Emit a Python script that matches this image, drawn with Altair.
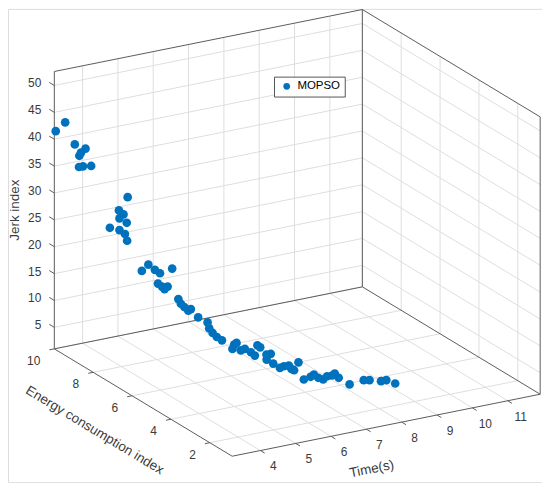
import math
import altair as alt
import pandas as pd

# ---------------- data ----------------
time_s = [3.24, 3.43, 3.62, 3.83, 3.74, 3.71, 3.70, 3.78, 3.94,
          4.66, 4.49, 4.58, 4.50, 4.64, 4.31, 4.50, 4.61, 4.65,
          4.94, 5.07, 5.20, 5.30, 5.54, 5.26, 5.34, 5.39, 5.45, 5.66,
          5.71, 5.78, 5.86, 5.91, 6.05, 6.24, 6.27, 6.34, 6.42, 6.52,
          6.73, 6.75, 6.79, 6.85, 6.91, 7.00, 7.05, 7.09, 7.13, 7.22,
          7.28, 7.18, 7.18, 7.17, 7.31, 7.44, 7.38, 7.39, 7.68, 7.27,
          7.51, 7.66, 7.64, 7.68, 7.88, 8.01, 8.14, 8.07, 8.07, 8.52,
          8.64, 8.85, 9.00, 9.07]
energy = [10.00, 9.86, 9.71, 9.54, 9.61, 9.64, 9.64, 9.58, 9.45,
          8.88, 9.02, 8.95, 9.01, 8.89, 9.16, 9.01, 8.93, 8.89,
          8.66, 8.56, 8.46, 8.38, 8.19, 8.41, 8.35, 8.31, 8.26, 8.09,
          8.05, 8.00, 7.94, 7.90, 7.78, 7.64, 7.61, 7.56, 7.49, 7.41,
          7.25, 7.20, 7.15, 7.04, 6.94, 6.79, 6.68, 6.62, 6.55, 6.39,
          6.28, 6.31, 5.97, 5.61, 5.66, 5.64, 5.40, 5.28, 5.58, 4.56,
          4.65, 4.75, 4.49, 4.31, 4.47, 4.45, 4.55, 4.22, 3.66, 3.75,
          3.67, 3.46, 3.46, 3.13]
jerk = [41.45, 43.13, 39.12, 38.42, 37.64, 37.03, 34.96, 35.11, 35.25,
        29.74, 27.19, 26.48, 25.71, 24.97, 23.89, 23.54, 22.83, 21.62,
        16.13, 17.34, 16.41, 15.83, 16.79, 13.89, 13.36, 12.91, 13.41, 11.17,
        10.32, 9.73, 9.07, 9.40, 7.92, 7.05, 5.96, 5.13, 4.43, 3.85,
        2.32, 3.20, 3.58, 2.36, 2.76, 2.35, 1.90, 3.89, 3.62, 2.50,
        2.79, 1.79, 1.79, 1.80, 1.80, 1.80, 1.80, 1.79, 2.22, 1.79,
        1.78, 1.79, 1.77, 1.80, 1.79, 1.79, 1.77, 1.79, 1.78, 1.78,
        1.80, 1.79, 1.78, 1.79]
series = "MOPSO"

# axis limits and ticks
T_LIM = [3.2, 11.92]
E_LIM = [0.85, 10.0]
Z_LIM = [1.0, 52.6]
T_TICKS = [4, 5, 6, 7, 8, 9, 10, 11]
E_TICKS = [2, 4, 6, 8, 10]
Z_TICKS = [5, 10, 15, 20, 25, 30, 35, 40, 45, 50]
T_TITLE = "Time(s)"
E_TITLE = "Energy consumption index"
Z_TITLE = "Jerk index"

# ---------------- view (orthographic 3-D projection) ----------------
AZ, EL = -30.0, 20.4           # azimuth / elevation in degrees
BOX = (357.0, 357.0, 297.0)    # plot-box edge lengths (px)
W, H = 536, 475                # view size
OX, OY = 225, 449              # where the (t0,E0,z0) corner sits in the view

a, el = math.radians(AZ), math.radians(EL)
CXT = BOX[0] * math.cos(a)
CXE = BOX[1] * math.sin(a)
CYT = -BOX[0] * math.sin(a) * math.sin(el)
CYE = BOX[1] * math.cos(a) * math.sin(el)
CYZ = BOX[2] * math.cos(el)

T0, T1 = T_LIM
E0, E1 = E_LIM
Z0, Z1 = Z_LIM


def proj(sfx=""):
    u = f"((datum.t{sfx}-({T0}))/({T1 - T0}))"
    v = f"((datum.e{sfx}-({E0}))/({E1 - E0}))"
    w = f"((datum.z{sfx}-({Z0}))/({Z1 - Z0}))"
    X = f"({CXT})*{u}+({CXE})*{v}"
    Y = f"({CYT})*{u}+({CYE})*{v}+({CYZ})*{w}"
    return X, Y


X_SCALE = alt.Scale(domain=[-OX, W - OX], nice=False, zero=False)
Y_SCALE = alt.Scale(domain=[-(H - OY), OY], nice=False, zero=False)
FONT = "Liberation Sans"

PX, PY = proj()
PX2, PY2 = proj("2")


def seg_layer(rows, color, width):
    df = pd.DataFrame(rows, columns=["t", "e", "z", "t2", "e2", "z2"])
    return (alt.Chart(df)
            .transform_calculate(px=PX, py=PY, px2=PX2, py2=PY2)
            .mark_rule(color=color, strokeWidth=width)
            .encode(x=alt.X("px:Q", scale=X_SCALE, axis=None),
                    y=alt.Y("py:Q", scale=Y_SCALE, axis=None),
                    x2="px2:Q", y2="py2:Q"))


def text_layer(rows, **mark):
    df = pd.DataFrame(rows, columns=["t", "e", "z", "label"])
    return (alt.Chart(df)
            .transform_calculate(px=PX, py=PY)
            .mark_text(font=FONT, **mark)
            .encode(x=alt.X("px:Q", scale=X_SCALE, axis=None),
                    y=alt.Y("py:Q", scale=Y_SCALE, axis=None),
                    text="label:N"))


# grid lines on the three back planes
grid = []
for t in T_TICKS:
    grid.append((t, E0, Z0, t, E1, Z0))      # floor
    grid.append((t, E1, Z0, t, E1, Z1))      # left wall
for e in E_TICKS:
    grid.append((T0, e, Z0, T1, e, Z0))      # floor
    grid.append((T1, e, Z0, T1, e, Z1))      # right wall
for z in Z_TICKS:
    grid.append((T0, E1, z, T1, E1, z))      # left wall
    grid.append((T1, E0, z, T1, E1, z))      # right wall

box = [
    (T0, E1, Z0, T0, E1, Z1),
    (T0, E1, Z1, T1, E1, Z1),
    (T1, E1, Z0, T1, E1, Z1),
    (T1, E1, Z1, T1, E0, Z1),
    (T1, E0, Z0, T1, E0, Z1),
    (T0, E1, Z0, T1, E1, Z0),
    (T1, E1, Z0, T1, E0, Z0),
    (T0, E0, Z0, T0, E1, Z0),
    (T0, E0, Z0, T1, E0, Z0),
]

ticks = ([(t, E0, Z0, t, E0 - 0.22, Z0) for t in T_TICKS]
         + [(T0, e, Z0, T0 - 0.14, e, Z0) for e in E_TICKS]
         + [(T0, E1, z, T0, E1 + 0.26, z) for z in Z_TICKS])

TICK_COLOR = "#3a3a3a"
t_labels = text_layer([(t, E0, Z0, str(t)) for t in T_TICKS],
                      align="center", baseline="middle", dx=13, dy=16,
                      fontSize=12, color=TICK_COLOR)
e_labels = text_layer([(T0, e, Z0, str(e)) for e in E_TICKS],
                      align="right", baseline="middle", dx=-14, dy=12,
                      fontSize=12, color=TICK_COLOR)
z_labels = text_layer([(T0, E1, z, str(z)) for z in Z_TICKS],
                      align="right", baseline="middle", dx=-13, dy=-2,
                      fontSize=12, color=TICK_COLOR)

t_angle = (-math.degrees(math.atan2(CYT, CXT))) % 360
e_angle = (-math.degrees(math.atan2(CYE, CXE)) + 180) % 360
t_title = text_layer([(5.71, -1.77, Z0, T_TITLE)], align="center",
                     baseline="middle", angle=t_angle, fontSize=13.5,
                     color=TICK_COLOR)
e_title = text_layer([(1.19, 4.27, Z0, E_TITLE)], align="center",
                     baseline="middle", angle=e_angle, fontSize=13.5,
                     color=TICK_COLOR)
z_title = text_layer([(T0, 12.0, 22.44, Z_TITLE)], align="center",
                     baseline="middle", angle=270, fontSize=13.5,
                     color=TICK_COLOR)

pts_df = pd.DataFrame({"t": time_s, "e": energy, "z": jerk,
                       "series": [series] * len(time_s)})
points = (alt.Chart(pts_df)
          .transform_calculate(px=PX, py=PY)
          .mark_circle(size=76, opacity=1)
          .encode(x=alt.X("px:Q", scale=X_SCALE, axis=None),
                  y=alt.Y("py:Q", scale=Y_SCALE, axis=None),
                  color=alt.Color("series:N",
                                  scale=alt.Scale(domain=[series], range=["#0072BD"]),
                                  legend=alt.Legend(
                                      title=None, orient="none",
                                      legendX=267, legendY=68,
                                      padding=4, symbolOffset=3,
                                      symbolSize=45, symbolType="circle",
                                      symbolStrokeWidth=0,
                                      labelFont=FONT, labelFontSize=11.5,
                                      labelColor="black", labelOffset=5,
                                      strokeColor="#555555",
                                      fillColor="white", cornerRadius=0))))

chart = alt.layer(
    seg_layer(grid, "#dedede", 1),
    seg_layer(box, "#5c5c5c", 1),
    seg_layer(ticks, "#5c5c5c", 1),
    t_labels, e_labels, z_labels,
    t_title, e_title, z_title,
    points,
).properties(
    width=W, height=H, padding=0,
    autosize=alt.AutoSizeParams(type="none"),
).configure_view(stroke=None).configure(font=FONT, background="white")

chart.save("out.html", embed_options={"renderer": "svg", "actions": False})
